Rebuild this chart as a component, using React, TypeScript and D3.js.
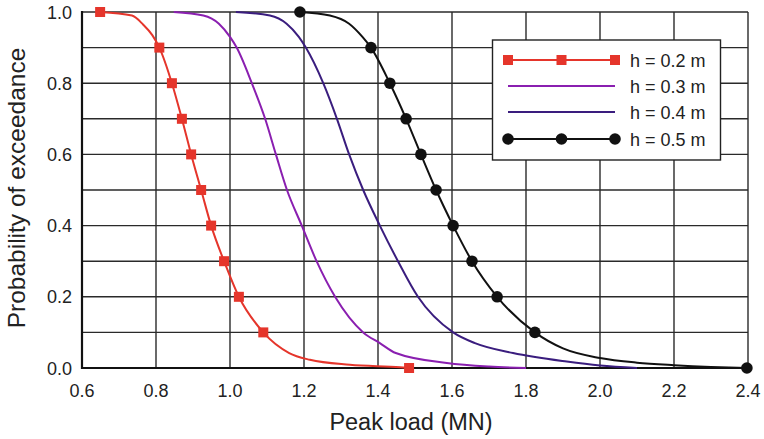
import React from "react";
import * as d3 from "d3";

const W = 764;
const H = 439;
const M = { left: 82, right: 748, top: 12, bottom: 368 };

const xTicks = [0.6, 0.8, 1.0, 1.2, 1.4, 1.6, 1.8, 2.0, 2.2, 2.4];
const yTicks = [0.0, 0.2, 0.4, 0.6, 0.8, 1.0];
const yGrid = [0.1, 0.2, 0.3, 0.4, 0.5, 0.6, 0.7, 0.8, 0.9, 1.0];

// h = 0.2 m curve
const redX = [0.649, 0.735, 0.765, 0.79, 0.809, 0.843, 0.87, 0.895, 0.922, 0.949, 0.984, 1.024, 1.09, 1.16, 1.216, 1.324, 1.46, 1.484];
const redY = [1.0, 0.99, 0.965, 0.935, 0.9, 0.8, 0.7, 0.6, 0.5, 0.4, 0.3, 0.2, 0.1, 0.042, 0.023, 0.009, 0.002, 0.0];
const redMarkX = [0.649, 0.809, 0.843, 0.87, 0.895, 0.922, 0.949, 0.984, 1.024, 1.09, 1.484];
const redMarkY = [1.0, 0.9, 0.8, 0.7, 0.6, 0.5, 0.4, 0.3, 0.2, 0.1, 0.0];

// h = 0.3 m curve
const purpleX = [0.848, 0.928, 0.97, 1.0, 1.018, 1.059, 1.095, 1.124, 1.154, 1.194, 1.234, 1.284, 1.36, 1.405, 1.448, 1.586, 1.7, 1.8];
const purpleY = [1.0, 0.99, 0.967, 0.93, 0.9, 0.8, 0.7, 0.6, 0.5, 0.4, 0.3, 0.2, 0.1, 0.07, 0.042, 0.014, 0.004, 0.0];

// h = 0.4 m curve
const indigoX = [1.016, 1.108, 1.153, 1.186, 1.205, 1.252, 1.289, 1.322, 1.36, 1.405, 1.454, 1.508, 1.603, 1.662, 1.765, 1.91, 2.0, 2.1];
const indigoY = [1.0, 0.99, 0.967, 0.93, 0.9, 0.8, 0.7, 0.6, 0.5, 0.4, 0.3, 0.2, 0.1, 0.07, 0.042, 0.018, 0.007, 0.0];

// h = 0.5 m curve
const blackX = [1.189, 1.27, 1.322, 1.358, 1.381, 1.432, 1.476, 1.516, 1.557, 1.603, 1.654, 1.722, 1.824, 1.9, 2.0, 2.1, 2.2, 2.3, 2.397];
const blackY = [1.0, 0.99, 0.967, 0.93, 0.9, 0.8, 0.7, 0.6, 0.5, 0.4, 0.3, 0.2, 0.1, 0.055, 0.028, 0.015, 0.008, 0.003, 0.0];
const blackMarkX = [1.189, 1.381, 1.432, 1.476, 1.516, 1.557, 1.603, 1.654, 1.722, 1.824, 2.397];
const blackMarkY = [1.0, 0.9, 0.8, 0.7, 0.6, 0.5, 0.4, 0.3, 0.2, 0.1, 0.0];

const legendLabels = ["h = 0.2 m", "h = 0.3 m", "h = 0.4 m", "h = 0.5 m"];

const RED = "#e5352b";
const PURPLE = "#8a1fb0";
const INDIGO = "#3a1d7e";
const BLACK = "#111111";

const FONT = "Liberation Sans, Arial, Helvetica, sans-serif";

export default function App() {
  const x = d3.scaleLinear().domain([0.6, 2.4]).range([M.left, M.right]);
  const y = d3.scaleLinear().domain([0, 1]).range([M.bottom, M.top]);
  const line = d3
    .line<[number, number]>()
    .x((d) => x(d[0]))
    .y((d) => y(d[1]))
    .curve(d3.curveMonotoneX);
  const zip = (xs: number[], ys: number[]) => xs.map((v, i) => [v, ys[i]] as [number, number]);

  const series = [
    { xs: redX, ys: redY, color: RED },
    { xs: purpleX, ys: purpleY, color: PURPLE },
    { xs: indigoX, ys: indigoY, color: INDIGO },
    { xs: blackX, ys: blackY, color: BLACK },
  ];

  const legendX0 = 508;
  const legendX1 = 615;
  const legendRows = [60, 86, 112, 139];

  return (
    <svg
      width={W}
      height={H}
      style={{ position: "absolute", left: 0, top: 0, background: "#fff" }}
      fontFamily={FONT}
    >
      <rect x={0} y={0} width={W} height={H} fill="#fff" />
      {/* grid */}
      {yGrid.map((v) => (
        <line key={"hy" + v} x1={M.left} x2={M.right} y1={y(v)} y2={y(v)} stroke="#2a2a2a" strokeWidth={1.4} />
      ))}
      {xTicks.slice(1).map((v) => (
        <line key={"vx" + v} x1={x(v)} x2={x(v)} y1={M.top} y2={M.bottom} stroke="#2a2a2a" strokeWidth={1.4} />
      ))}
      {/* axes frame */}
      <line x1={M.left} x2={M.left} y1={M.top - 1} y2={M.bottom + 1} stroke="#111" strokeWidth={2.2} />
      <line x1={M.left - 1} x2={M.right + 1} y1={M.bottom} y2={M.bottom} stroke="#111" strokeWidth={2.2} />
      {/* tick labels */}
      {xTicks.map((v) => (
        <text key={"xt" + v} x={x(v)} y={397} textAnchor="middle" fontSize={18} fill="#222">
          {v.toFixed(1)}
        </text>
      ))}
      {yTicks.map((v) => (
        <text key={"yt" + v} x={72} y={y(v) + 6.5} textAnchor="end" fontSize={18} fill="#222">
          {v.toFixed(1)}
        </text>
      ))}
      {/* titles */}
      <text x={411} y={430} textAnchor="middle" fontSize={23.5} fill="#222">
        Peak load (MN)
      </text>
      <text transform={`translate(25,188) rotate(-90)`} textAnchor="middle" fontSize={24.5} fill="#222">
        Probability of exceedance
      </text>
      {/* series */}
      {series.map((s, i) => (
        <path key={"s" + i} d={line(zip(s.xs, s.ys)) || ""} fill="none" stroke={s.color} strokeWidth={2} />
      ))}
      {redMarkX.map((v, i) => (
        <rect key={"rm" + i} x={x(v) - 5} y={y(redMarkY[i]) - 5} width={10} height={10} fill={RED} />
      ))}
      {blackMarkX.map((v, i) => (
        <circle key={"bm" + i} cx={x(v)} cy={y(blackMarkY[i])} r={5.8} fill={BLACK} />
      ))}
      {/* legend */}
      <rect x={492.5} y={40} width={228} height={120} fill="#fff" stroke="#222" strokeWidth={1.4} />
      {legendRows.map((ry, i) => {
        const c = [RED, PURPLE, INDIGO, BLACK][i];
        return (
          <g key={"lg" + i}>
            <line x1={legendX0} x2={legendX1} y1={ry} y2={ry} stroke={c} strokeWidth={2} />
            {i === 0 &&
              [legendX0, (legendX0 + legendX1) / 2, legendX1].map((mx) => (
                <rect key={mx} x={mx - 5} y={ry - 5} width={10} height={10} fill={RED} />
              ))}
            {i === 3 &&
              [legendX0, (legendX0 + legendX1) / 2, legendX1].map((mx) => (
                <circle key={mx} cx={mx} cy={ry} r={5.8} fill={BLACK} />
              ))}
            <text x={630} y={ry + 6.5} fontSize={18} fill="#222">
              {legendLabels[i]}
            </text>
          </g>
        );
      })}
    </svg>
  );
}
